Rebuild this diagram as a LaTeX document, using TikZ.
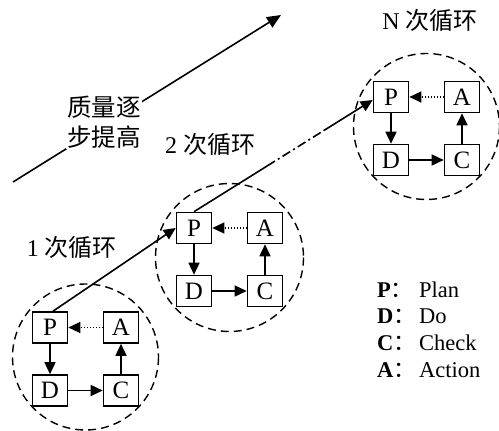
\documentclass[tikz,border=0pt]{standalone}
\usepackage{fontspec}
\setmainfont{Liberation Serif}
\newfontfamily\cjk{Noto Sans CJK SC}
\usetikzlibrary{arrows.meta,calc}
\begin{document}
\begin{tikzpicture}[x=1pt,y=-1pt,
  box/.style={draw,line width=1.6pt,fill=white,minimum width=35pt,minimum height=31pt,inner sep=0pt,font=\fontsize{25}{25}\selectfont},
  ring/.style={draw,line width=1.4pt,dash pattern=on 8pt off 5pt},
  tip/.style={-{Triangle[length=12pt,width=11pt]}},
  conn/.style={line width=1.6pt},
  dotline/.style={line width=1.1pt,dash pattern=on 1.2pt off 1.8pt},
  lbl/.style={font=\fontsize{24}{28}\selectfont,inner sep=2pt},
  key/.style={font=\fontsize{22.5}{22.5}\selectfont,anchor=base west,inner sep=0pt}]
\useasboundingbox (0,0) rectangle (499,431);
% cycles
\foreach \n/\bx/\by/\r in {1/85.5/359/73, 2/229.5/259.5/74, 3/426.5/128.5/73}{
  \draw[ring] (\bx,{\by-2}) circle[radius=\r];
  \node[box] (P\n) at ({\bx-35.5},{\by-31.5}) {P};
  \node[box] (A\n) at ({\bx+35.5},{\by-31.5}) {A};
  \node[box] (D\n) at ({\bx-35.5},{\by+31.5}) {D};
  \node[box] (C\n) at ({\bx+35.5},{\by+31.5}) {C};
  \draw[conn,tip] (P\n) -- (D\n);
  \draw[conn,tip] (D\n) -- (C\n);
  \draw[conn,tip] (C\n) -- (A\n);
  \draw[dotline,tip] (A\n) -- (P\n);
}
% connectors between cycles
\draw[conn,tip] ([xshift=3pt]P1.north) -- (P2.west);
\path (P2.north) -- ([yshift=-3pt]P3.west) coordinate[pos=0.41] (m1) coordinate[pos=0.73] (m2);
\draw[conn] (P2.north) -- (m1);
\draw[conn,dash pattern=on 9pt off 3.5pt on 2pt off 3.5pt] (m1) -- (m2);
\draw[conn,tip] (m2) -- ([yshift=-3pt]P3.west);
% quality arrow
\coordinate (q0) at (13,182);
\coordinate (q1) at (281,15);
\draw[conn,-{Triangle[length=14pt,width=12pt]}] (q0) -- (q1);
\node[fill=white,align=center,inner sep=1pt,font=\cjk\fontsize{24.5}{30}\selectfont] (Q) at (104,122) {质量逐\\步提高};
% labels
\node[lbl] (L1) at (72,247) {1 {\cjk 次循环}};
\node[lbl] (L2) at (210,144) {2 {\cjk 次循环}};
\node[lbl] (LN) at (430,20) {N {\cjk 次循环}};
% legend
\node[key] (kP) at (377,297) {\makebox[42pt][l]{\textbf{P}{\cjk ：}}Plan};
\node[key] (kD) at (377,323.5) {\makebox[42pt][l]{\textbf{D}{\cjk ：}}Do};
\node[key] (kC) at (377,350.5) {\makebox[42pt][l]{\textbf{C}{\cjk ：}}Check};
\node[key] (kA) at (377,377) {\makebox[42pt][l]{\textbf{A}{\cjk ：}}Action};
\end{tikzpicture}
\end{document}
